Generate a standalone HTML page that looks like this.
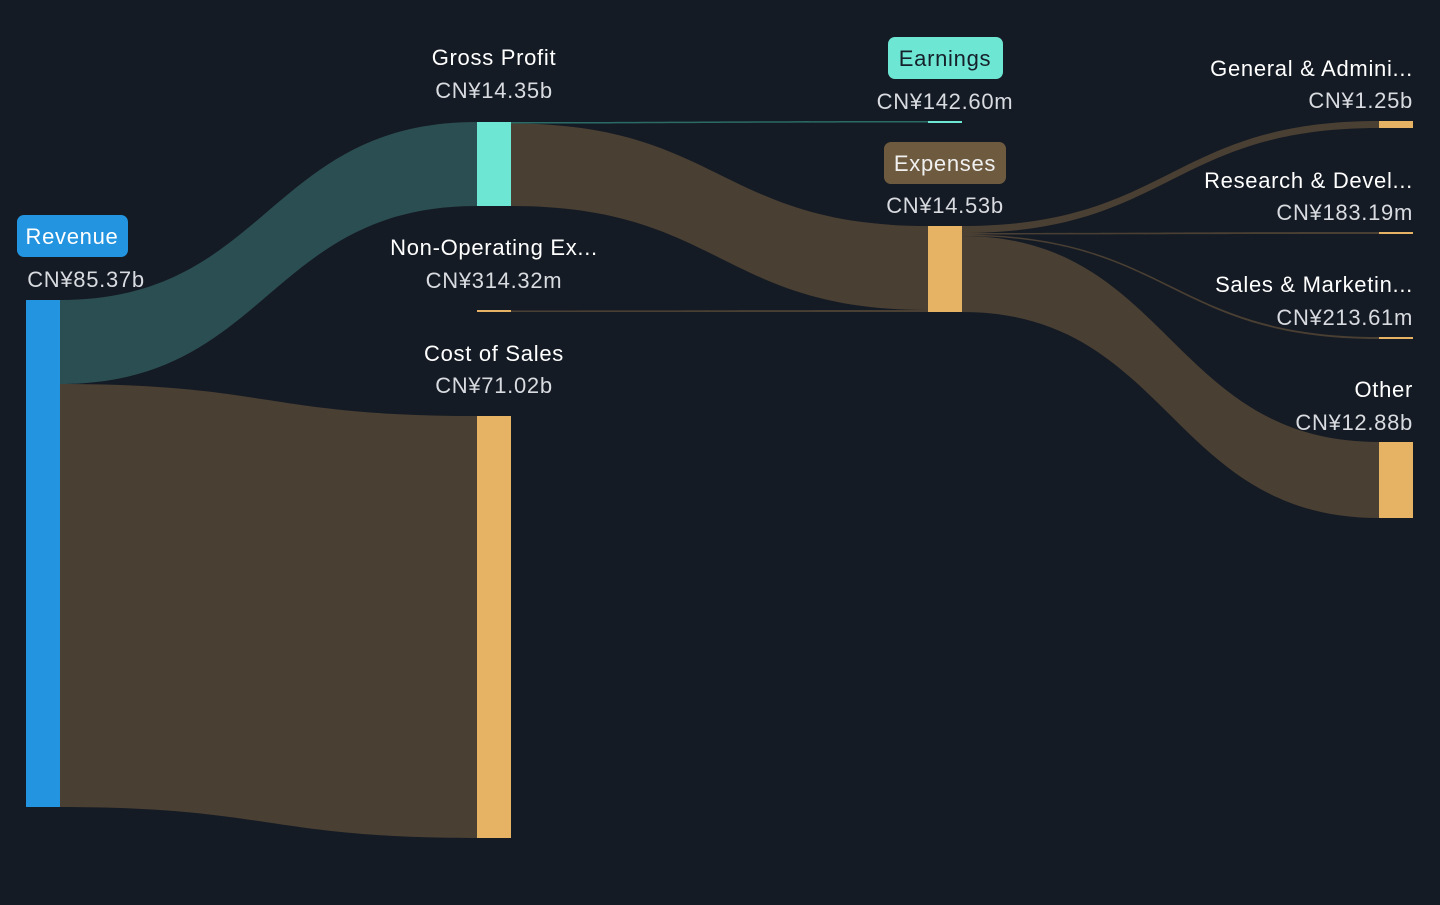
<!DOCTYPE html>
<html><head><meta charset="utf-8"><style>
html,body{margin:0;padding:0;background:#151b24;}
svg{display:block}
text{font-family:"Liberation Sans",sans-serif;font-size:22px;letter-spacing:0.7px;}
</style></head><body>
<svg width="1440" height="905" viewBox="0 0 1440 905">
<rect width="1440" height="905" fill="#151b24"/>
<path d="M60,300 C268,300 268,122 477,122 L477,206 C268,206 268,384 60,384 Z" fill="#2b4e52"/>
<path d="M60,384 C268,384 268,416 477,416 L477,838 C268,838 268,807 60,807 Z" fill="#4a3f33"/>
<path d="M511,122 C720,122 720,121 928,121 L928,122.5 C720,122.5 720,123.5 511,123.5 Z" fill="#2b6b66"/>
<path d="M511,123.5 C720,123.5 720,226 928,226 L928,310 C720,310 720,206 511,206 Z" fill="#4a3f33"/>
<path d="M511,310.5 C720,310.5 720,310 928,310 L928,312 C720,312 720,312 511,312 Z" fill="#4a3f33"/>
<path d="M962,226 C1170,226 1170,121 1379,121 L1379,128 C1170,128 1170,233 962,233 Z" fill="#4a3f33"/>
<path d="M962,233 C1170,233 1170,232 1379,232 L1379,234 C1170,234 1170,234.5 962,234.5 Z" fill="#4a3f33"/>
<path d="M962,234.5 C1170,234.5 1170,337 1379,337 L1379,339 C1170,339 1170,236 962,236 Z" fill="#4a3f33"/>
<path d="M962,236 C1170,236 1170,442 1379,442 L1379,518 C1170,518 1170,312 962,312 Z" fill="#4a3f33"/>
<rect x="26" y="300" width="34" height="507" fill="#2394df"/>
<rect x="477" y="122" width="34" height="84" fill="#6ee6d4"/>
<rect x="477" y="310" width="34" height="2" fill="#e6b264"/>
<rect x="477" y="416" width="34" height="422" fill="#e6b264"/>
<rect x="928" y="121" width="34" height="2" fill="#6ee6d4"/>
<rect x="928" y="226" width="34" height="86" fill="#e6b264"/>
<rect x="1379" y="121" width="34" height="7" fill="#e6b264"/>
<rect x="1379" y="232" width="34" height="2" fill="#e6b264"/>
<rect x="1379" y="337" width="34" height="2" fill="#e6b264"/>
<rect x="1379" y="442" width="34" height="76" fill="#e6b264"/>
<rect x="17" y="215" width="111" height="42" rx="7" fill="#2394df"/>
<text x="72" y="244" text-anchor="middle" fill="#fff">Revenue</text>
<text x="86" y="287" text-anchor="middle" fill="#d8dbe0">CN¥85.37b</text>
<text x="494" y="65" text-anchor="middle" fill="#fff">Gross Profit</text>
<text x="494" y="98" text-anchor="middle" fill="#d8dbe0">CN¥14.35b</text>
<text x="494" y="255" text-anchor="middle" fill="#fff">Non-Operating Ex...</text>
<text x="494" y="288" text-anchor="middle" fill="#d8dbe0">CN¥314.32m</text>
<text x="494" y="361" text-anchor="middle" fill="#fff">Cost of Sales</text>
<text x="494" y="393" text-anchor="middle" fill="#d8dbe0">CN¥71.02b</text>
<rect x="888" y="37" width="115" height="42" rx="7" fill="#6ee6d4"/>
<text x="945" y="66" text-anchor="middle" fill="#15202a">Earnings</text>
<text x="945" y="109" text-anchor="middle" fill="#d8dbe0">CN¥142.60m</text>
<rect x="884" y="142" width="122" height="42" rx="7" fill="#6e5b3f"/>
<text x="945" y="171" text-anchor="middle" fill="#f0f0f0">Expenses</text>
<text x="945" y="213" text-anchor="middle" fill="#d8dbe0">CN¥14.53b</text>
<text x="1413" y="76" text-anchor="end" fill="#fff">General &amp; Admini...</text>
<text x="1413" y="108" text-anchor="end" fill="#d8dbe0">CN¥1.25b</text>
<text x="1413" y="188" text-anchor="end" fill="#fff">Research &amp; Devel...</text>
<text x="1413" y="220" text-anchor="end" fill="#d8dbe0">CN¥183.19m</text>
<text x="1413" y="292" text-anchor="end" fill="#fff">Sales &amp; Marketin...</text>
<text x="1413" y="325" text-anchor="end" fill="#d8dbe0">CN¥213.61m</text>
<text x="1413" y="397" text-anchor="end" fill="#fff">Other</text>
<text x="1413" y="430" text-anchor="end" fill="#d8dbe0">CN¥12.88b</text>
</svg>
</body></html>
